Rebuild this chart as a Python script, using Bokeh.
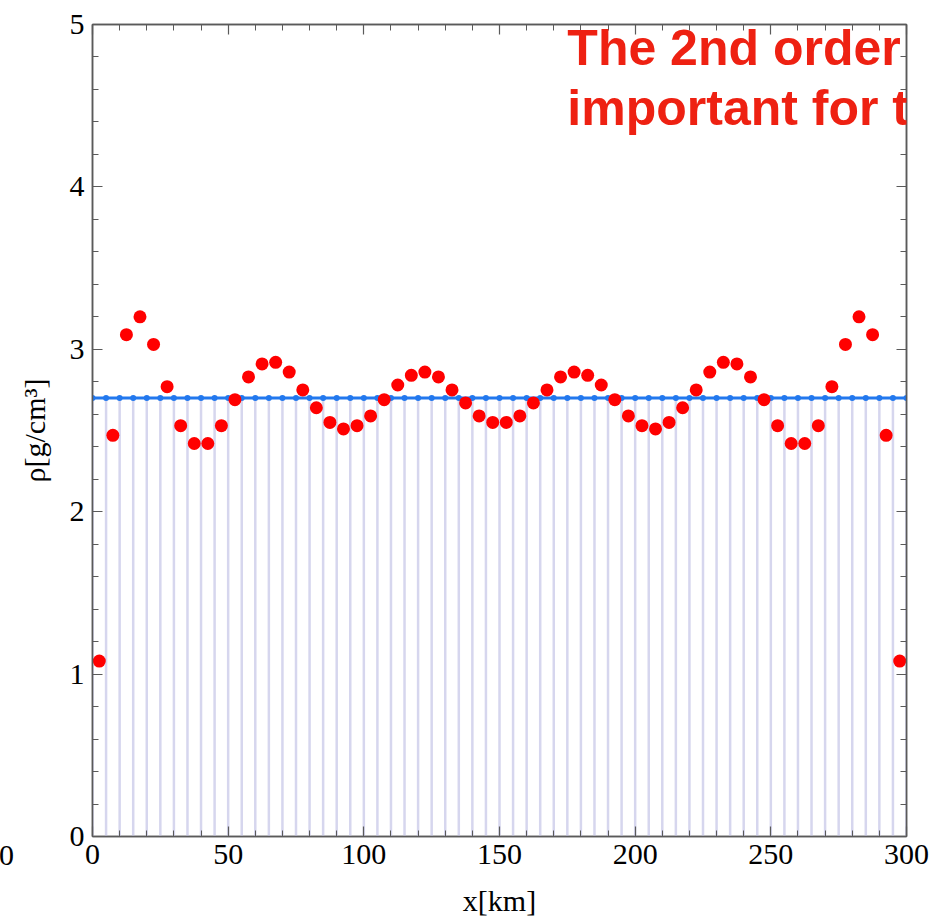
from bokeh.plotting import figure
from bokeh.models import Range1d, LinearAxis, FixedTicker, Label
from bokeh.embed import file_html
from bokeh.resources import INLINE

# cell centres along the profile [km] and the density found in each cell [g/cm^3]
x_cells = [2.5, 7.5, 12.5, 17.5, 22.5, 27.5, 32.5, 37.5, 42.5, 47.5,
           52.5, 57.5, 62.5, 67.5, 72.5, 77.5, 82.5, 87.5, 92.5, 97.5,
           102.5, 107.5, 112.5, 117.5, 122.5, 127.5, 132.5, 137.5, 142.5, 147.5,
           152.5, 157.5, 162.5, 167.5, 172.5, 177.5, 182.5, 187.5, 192.5, 197.5,
           202.5, 207.5, 212.5, 217.5, 222.5, 227.5, 232.5, 237.5, 242.5, 247.5,
           252.5, 257.5, 262.5, 267.5, 272.5, 277.5, 282.5, 287.5, 292.5, 297.5]
rho_cells = [1.08, 2.47, 3.09, 3.20, 3.03, 2.77, 2.53, 2.42, 2.42, 2.53,
             2.69, 2.83, 2.91, 2.92, 2.86, 2.75, 2.64, 2.55, 2.51, 2.53,
             2.59, 2.69, 2.78, 2.84, 2.86, 2.83, 2.75, 2.67, 2.59, 2.55,
             2.55, 2.59, 2.67, 2.75, 2.83, 2.86, 2.84, 2.78, 2.69, 2.59,
             2.53, 2.51, 2.55, 2.64, 2.75, 2.86, 2.92, 2.91, 2.83, 2.69,
             2.53, 2.42, 2.42, 2.53, 2.77, 3.03, 3.20, 3.09, 2.47, 1.08]

# reference (true) density on the node grid
x_nodes = [0, 5, 10, 15, 20, 25, 30, 35, 40, 45, 50, 55, 60, 65, 70, 75,
           80, 85, 90, 95, 100, 105, 110, 115, 120, 125, 130, 135, 140, 145,
           150, 155, 160, 165, 170, 175, 180, 185, 190, 195, 200, 205, 210,
           215, 220, 225, 230, 235, 240, 245, 250, 255, 260, 265, 270, 275,
           280, 285, 290, 295, 300]
rho_true = [2.7] * len(x_nodes)

x_major = [0, 50, 100, 150, 200, 250, 300]
x_minor = [10, 20, 30, 40, 60, 70, 80, 90, 110, 120, 130, 140, 160, 170, 180,
           190, 210, 220, 230, 240, 260, 270, 280, 290]
y_major = [0, 1, 2, 3, 4, 5]
y_minor = [0.2, 0.4, 0.6, 0.8, 1.2, 1.4, 1.6, 1.8, 2.2, 2.4, 2.6, 2.8,
           3.2, 3.4, 3.6, 3.8, 4.2, 4.4, 4.6, 4.8]

title_lines = ["The 2nd order", "important for the"]
title_x = 175.0                 # left edge of the note [km]
title_y = [4.858, 4.483]        # anchor heights of its two lines [g/cm^3]

FRAME = "#5a5a5a"
SERIF = "Liberation Serif"

p = figure(width=933, height=921, output_backend="svg", toolbar_location=None,
           x_range=Range1d(0, 300), y_range=Range1d(0, 5),
           min_border_left=92, min_border_right=27, min_border_top=24,
           min_border_bottom=85, x_axis_location=None, y_axis_location=None)
p.grid.visible = False
p.outline_line_color = FRAME
p.outline_line_width = 1.5
p.background_fill_color = "white"
p.border_fill_color = "white"


def style_axis(ax, major, minor, labelled):
    ax.ticker = FixedTicker(ticks=major, minor_ticks=minor)
    ax.axis_line_color = FRAME
    ax.axis_line_width = 1.5
    ax.major_tick_in = 10
    ax.major_tick_out = 0
    ax.minor_tick_in = 6
    ax.minor_tick_out = 0
    ax.major_tick_line_color = FRAME
    ax.minor_tick_line_color = FRAME
    ax.major_tick_line_width = 1.2
    ax.minor_tick_line_width = 1.0
    ax.major_label_text_font = SERIF
    ax.major_label_text_font_size = "30px"
    ax.major_label_text_color = "black"
    ax.major_label_standoff = 8
    ax.axis_label_text_font = SERIF
    ax.axis_label_text_font_size = "30px"
    ax.axis_label_text_font_style = "normal"
    ax.axis_label_text_color = "black"
    if not labelled:
        ax.major_label_overrides = {v: "" for v in major}
        ax.major_label_standoff = 0


bottom = LinearAxis(axis_label="x[km]")
style_axis(bottom, x_major, x_minor, True)
bottom.axis_label_standoff = 17
p.add_layout(bottom, "below")

left = LinearAxis(axis_label="ρ[g/cm³]")
style_axis(left, y_major, y_minor, True)
left.axis_label_standoff = 16
p.add_layout(left, "left")

top = LinearAxis()
style_axis(top, x_major, x_minor, False)
p.add_layout(top, "above")

right = LinearAxis()
style_axis(right, y_major, y_minor, False)
p.add_layout(right, "right")

# filling from the reference density down to the axis
p.segment(x0=x_nodes, y0=[0] * len(x_nodes), x1=x_nodes, y1=rho_true,
          line_color="#d6d6ee", line_width=2.5)
# reference density
p.line(x_nodes, rho_true, line_color="#2278ee", line_width=3.2)
p.scatter(x_nodes, rho_true, size=6, fill_color="#2278ee", line_color=None)
# reconstructed cell densities
p.scatter(x_cells, rho_cells, size=13, fill_color="#ff0000", line_color=None)

# tick label of the neighbouring panel, left of this one
p.add_layout(Label(x=-31.7, y=-0.116, text="0", text_font=SERIF,
                   text_font_size="30px", text_color="black",
                   text_align="center", text_baseline="alphabetic"), "right")

for line, yb in zip(title_lines, title_y):
    p.add_layout(Label(x=title_x, y=yb, text=line,
                       text_font="Liberation Sans", text_font_style="bold",
                       text_font_size="50px", text_color="#ee2112",
                       text_baseline="alphabetic"))

open("out.html", "w").write(file_html(p, INLINE))
